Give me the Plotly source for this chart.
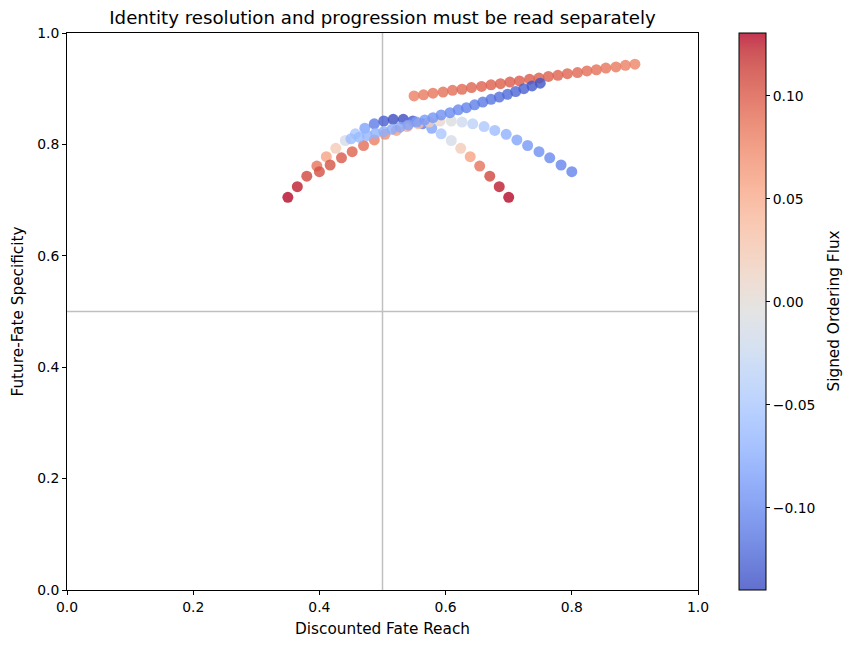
import plotly.graph_objects as go

# ---------------- data ----------------
arc_a_x = [0.350, 0.365, 0.380, 0.396, 0.411, 0.426, 0.441, 0.457, 0.472, 0.487, 0.502, 0.517,
           0.533, 0.548, 0.563, 0.578, 0.593, 0.609, 0.624, 0.639, 0.654, 0.670, 0.685, 0.700]
arc_a_y = [0.705, 0.724, 0.743, 0.761, 0.778, 0.793, 0.807, 0.819, 0.829, 0.837, 0.842, 0.845,
           0.845, 0.842, 0.837, 0.829, 0.819, 0.807, 0.793, 0.778, 0.761, 0.743, 0.724, 0.705]
arc_a_flux = [0.130, 0.125, 0.110, 0.087, 0.057, 0.022, -0.014, -0.050, -0.083, -0.110, -0.129, -0.139,
              -0.139, -0.129, -0.110, -0.083, -0.050, -0.014, 0.022, 0.057, 0.087, 0.110, 0.125, 0.130]

arc_b_x = [0.400, 0.417, 0.435, 0.452, 0.470, 0.487, 0.504, 0.522, 0.539, 0.557, 0.574, 0.591,
           0.609, 0.626, 0.643, 0.661, 0.678, 0.696, 0.713, 0.730, 0.748, 0.765, 0.783, 0.800]
arc_b_y = [0.751, 0.763, 0.776, 0.787, 0.798, 0.808, 0.818, 0.825, 0.832, 0.837, 0.840, 0.842,
           0.842, 0.840, 0.837, 0.832, 0.825, 0.818, 0.808, 0.798, 0.787, 0.776, 0.763, 0.751]
arc_b_flux = [0.105, 0.104, 0.101, 0.096, 0.090, 0.081, 0.072, 0.061, 0.048, 0.035, 0.021, 0.007,
              -0.007, -0.021, -0.035, -0.048, -0.061, -0.072, -0.081, -0.090, -0.096, -0.101, -0.104, -0.105]

line_c_x = [0.550, 0.565, 0.580, 0.596, 0.611, 0.626, 0.641, 0.657, 0.672, 0.687, 0.702, 0.717,
            0.733, 0.748, 0.763, 0.778, 0.793, 0.809, 0.824, 0.839, 0.854, 0.870, 0.885, 0.900]
line_c_y = [0.887, 0.889, 0.892, 0.894, 0.897, 0.899, 0.902, 0.904, 0.907, 0.909, 0.912, 0.914,
            0.917, 0.919, 0.922, 0.924, 0.927, 0.929, 0.932, 0.934, 0.937, 0.939, 0.942, 0.944]
line_c_flux = [0.080, 0.083, 0.086, 0.089, 0.091, 0.093, 0.095, 0.097, 0.098, 0.099, 0.100, 0.100,
               0.100, 0.099, 0.098, 0.097, 0.095, 0.093, 0.091, 0.089, 0.086, 0.083, 0.080, 0.077]

line_d_x = [0.450, 0.463, 0.476, 0.489, 0.502, 0.515, 0.528, 0.541, 0.554, 0.567, 0.580, 0.593,
            0.607, 0.620, 0.633, 0.646, 0.659, 0.672, 0.685, 0.698, 0.711, 0.724, 0.737, 0.750]
line_d_y = [0.810, 0.813, 0.816, 0.820, 0.823, 0.827, 0.831, 0.835, 0.840, 0.844, 0.848, 0.853,
            0.857, 0.862, 0.866, 0.871, 0.876, 0.881, 0.885, 0.890, 0.895, 0.900, 0.905, 0.910]
line_d_flux = [-0.060, -0.063, -0.067, -0.070, -0.073, -0.076, -0.080, -0.083, -0.086, -0.089, -0.093, -0.096,
               -0.099, -0.102, -0.106, -0.109, -0.112, -0.115, -0.119, -0.122, -0.125, -0.128, -0.132, -0.135]

flux_min, flux_max = -0.14, 0.1306
cbar_ticks = [-0.10, -0.05, 0.0, 0.05, 0.10]
cbar_labels = ["\u22120.10", "\u22120.05", "0.00", "0.05", "0.10"]
axis_ticks = [0.0, 0.2, 0.4, 0.6, 0.8, 1.0]
axis_labels = ["0.0", "0.2", "0.4", "0.6", "0.8", "1.0"]

# ---------------- colours ----------------
coolwarm_rgb = [
    (59, 76, 192), (68, 90, 204), (77, 104, 215), (87, 117, 225), (98, 130, 234), (108, 142, 241),
    (119, 154, 247), (130, 165, 251), (141, 176, 254), (152, 185, 255), (163, 194, 255), (174, 201, 253),
    (184, 208, 249), (194, 213, 244), (204, 217, 238), (213, 219, 230), (221, 221, 221), (229, 216, 209),
    (236, 211, 197), (241, 204, 184), (245, 196, 172), (247, 187, 160), (247, 177, 148), (247, 166, 135),
    (244, 154, 123), (241, 141, 111), (236, 127, 99), (229, 112, 88), (222, 96, 77), (213, 80, 66),
    (203, 62, 56), (192, 40, 47), (180, 4, 38)]
n = len(coolwarm_rgb) - 1
coolwarm = [[i / n, "rgb(%d,%d,%d)" % c] for i, c in enumerate(coolwarm_rgb)]
alpha = 0.8
coolwarm_faded = [[i / n, "rgb(%d,%d,%d)" % tuple(round(alpha * v + (1 - alpha) * 255) for v in c)]
                  for i, c in enumerate(coolwarm_rgb)]

FONT = "DejaVu Sans"
TICK = 13.9
LABEL = 15.3
fig = go.Figure()

for xs, ys, cs in [(arc_a_x, arc_a_y, arc_a_flux), (arc_b_x, arc_b_y, arc_b_flux),
                   (line_c_x, line_c_y, line_c_flux), (line_d_x, line_d_y, line_d_flux)]:
    fig.add_trace(go.Scatter(
        x=xs, y=ys, mode="markers", showlegend=False, hoverinfo="skip",
        marker=dict(size=11, color=cs, colorscale=coolwarm, cmin=flux_min, cmax=flux_max,
                    opacity=alpha, line=dict(width=0), showscale=False)))

# colour bar (faded like the alpha-blended matplotlib bar)
fig.add_trace(go.Scatter(
    x=[None], y=[None], mode="markers", showlegend=False, hoverinfo="skip",
    marker=dict(size=0, color=[0], colorscale=coolwarm_faded, cmin=flux_min, cmax=flux_max,
                showscale=True,
                colorbar=dict(x=1.065, xanchor="left", xref="paper", y=0.5, yanchor="middle",
                              len=1.0, lenmode="fraction", thickness=27, thicknessmode="pixels",
                              xpad=0, ypad=0,
                              outlinewidth=1, outlinecolor="black",
                              ticks="outside", ticklen=4, tickcolor="black",
                              tickvals=cbar_ticks, ticktext=cbar_labels,
                              tickfont=dict(family=FONT, size=TICK, color="black")))))

fig.add_annotation(text="Signed Ordering Flux", xref="paper", yref="paper",
                   x=(833 - 67) / 631, y=0.5, xanchor="center", yanchor="middle",
                   textangle=-90, showarrow=False,
                   font=dict(family=FONT, size=LABEL, color="black"))

fig.add_shape(type="line", xref="x", yref="paper", x0=0.5, x1=0.5, y0=0, y1=1,
              line=dict(color="rgb(192,192,192)", width=1.5), layer="below")
fig.add_shape(type="line", xref="paper", yref="y", x0=0, x1=1, y0=0.5, y1=0.5,
              line=dict(color="rgb(192,192,192)", width=1.5), layer="below")

axis_common = dict(range=[0, 1], tickvals=axis_ticks, ticktext=axis_labels, showgrid=False,
                   zeroline=False, showline=True, mirror=True, linecolor="black", linewidth=1,
                   ticks="outside", ticklen=4, tickcolor="black",
                   tickfont=dict(family=FONT, size=TICK, color="black"))

fig.update_layout(
    width=855, height=648,
    margin=dict(l=67, r=157, t=33, b=58),
    paper_bgcolor="white", plot_bgcolor="white",
    title=dict(text="Identity resolution and progression must be read separately",
               x=0.5, xref="paper", xanchor="center", y=1 - 18 / 648, yref="container",
               yanchor="middle", font=dict(family=FONT, size=18.2, color="black")),
    xaxis=dict(axis_common, title=dict(text="Discounted Fate Reach", standoff=9,
                                       font=dict(family=FONT, size=LABEL, color="black"))),
    yaxis=dict(axis_common, title=dict(text="Future-Fate Specificity", standoff=9,
                                       font=dict(family=FONT, size=LABEL, color="black"))),
)

fig.write_html("out.html")
